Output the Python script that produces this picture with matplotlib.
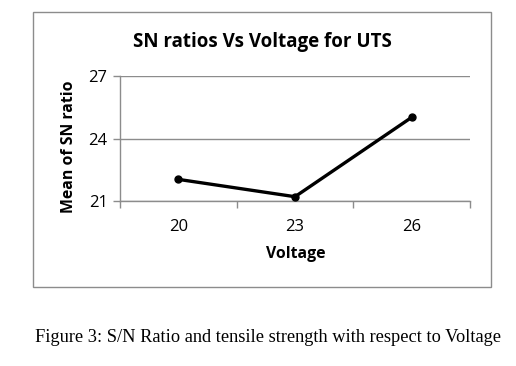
import matplotlib
matplotlib.use("Agg")
import matplotlib.pyplot as plt
from matplotlib.patches import Rectangle

categories = ["20", "23", "26"]
sn_means = [22.05, 21.22, 25.02]
y_ticks = [21, 24, 27]

W, H = 516, 366
fig = plt.figure(figsize=(W / 100, H / 100), dpi=100)
fig.patch.set_facecolor("white")

# chart frame
fig.add_artist(Rectangle((33 / W, 1 - 287 / H), (491 - 33) / W, (287 - 12) / H,
                         transform=fig.transFigure, fill=False,
                         edgecolor="#8c8c8c", linewidth=1.0))

ax_l, ax_r, ax_t, ax_b = 120, 470, 76, 201.3
ax = fig.add_axes([ax_l / W, 1 - ax_b / H, (ax_r - ax_l) / W, (ax_b - ax_t) / H])

x = list(range(1, len(categories) + 1))
ax.plot(x, sn_means, color="black", linewidth=2.4, marker="o", markersize=5,
        solid_capstyle="round", zorder=3)

ax.set_xlim(0.5, len(categories) + 0.5)
ax.set_ylim(y_ticks[0], y_ticks[-1])
ax.set_yticks(y_ticks)
ax.set_xticks(x)
ax.set_xticklabels(categories)
ax.set_xticks([i + 0.5 for i in range(len(categories) + 1)], minor=True)

ax.grid(axis="y", color="#8c8c8c", linewidth=1.0)
ax.set_axisbelow(True)
for s in ["top", "right"]:
    ax.spines[s].set_visible(False)
for s in ["left", "bottom"]:
    ax.spines[s].set_color("#8c8c8c")
    ax.spines[s].set_linewidth(1.0)

font = "Open Sans"
ax.tick_params(axis="x", which="major", length=0, pad=12.5, labelsize=12)
ax.tick_params(axis="x", which="minor", length=5, color="#8c8c8c", width=1.0)
ax.tick_params(axis="y", length=5, color="#8c8c8c", width=1.0, pad=4, labelsize=12)
for lab in ax.get_xticklabels() + ax.get_yticklabels():
    lab.set_fontfamily(font)
    lab.set_color("black")

fig.text(262 / W, 1 - 42 / H, "SN ratios Vs Voltage for UTS", ha="center", va="center",
         fontsize=13.5, fontweight="bold", family=font)
fig.text(296 / W, 1 - 254 / H, "Voltage", ha="center", va="center",
         fontsize=11.3, fontweight="bold", family=font)
fig.text(69 / W, 1 - 147 / H, "Mean of SN ratio", ha="center", va="center",
         rotation=90, fontsize=11.4, fontweight="bold", family=font)

fig.text(268 / W, 1 - 338 / H, "Figure 3: S/N Ratio and tensile strength with respect to Voltage",
         ha="center", va="center", fontsize=13.2, family="Liberation Serif")

fig.savefig("out.png", dpi=100, facecolor="white")
